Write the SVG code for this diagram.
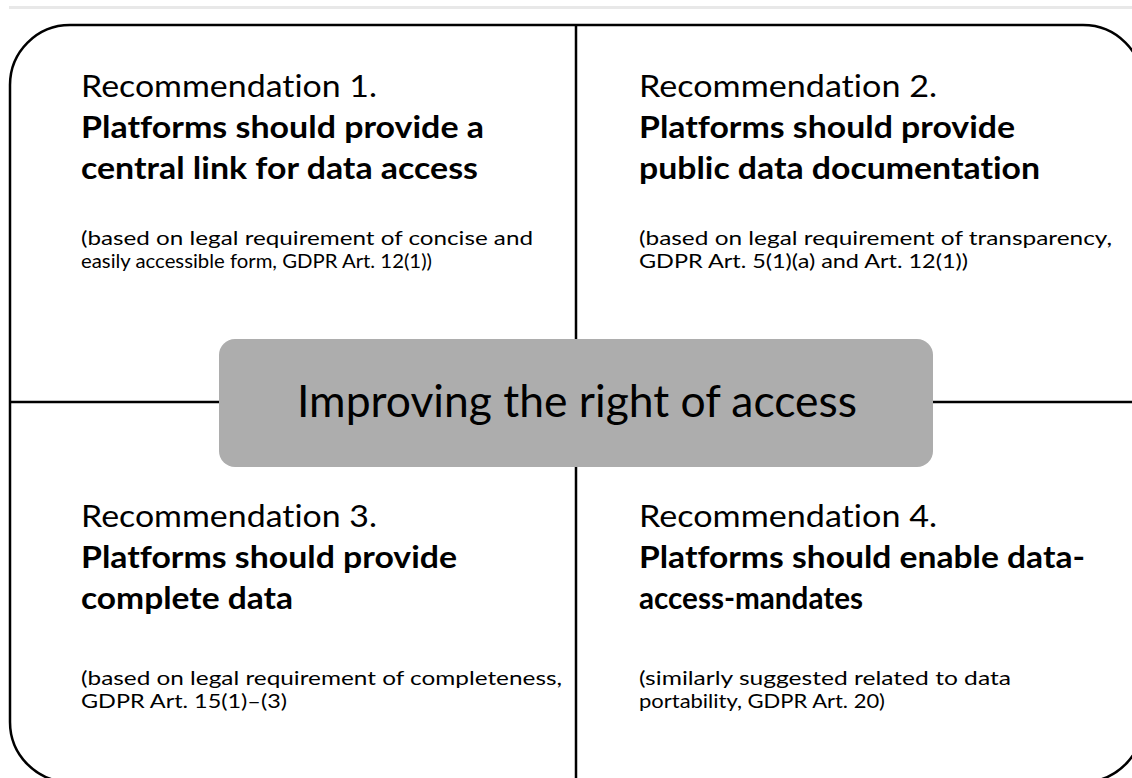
<svg xmlns="http://www.w3.org/2000/svg" width="1132" height="778" viewBox="0 0 1132 778">
<style>
text{font-family:Lato,"Open Sans","Liberation Sans",sans-serif;fill:#000;font-variant-ligatures:none}
.h{font-size:31px}
.b{font-size:31px;font-weight:700}
.s{font-size:20px}
.c{font-size:44px}
.ln{stroke:#000;stroke-width:2.5;fill:none}
</style>
<rect x="0" y="0" width="1132" height="778" fill="#fff"/>
<line x1="9" y1="7.5" x2="1132" y2="7.5" stroke="#e8e8e8" stroke-width="3"/>
<g id="frame">
<rect class="ln" x="10" y="25" width="1133" height="757" rx="60" ry="60"/>
</g>
<g id="connectors">
<line class="ln" x1="576" y1="25" x2="576" y2="339"/>
<line class="ln" x1="576" y1="467" x2="576" y2="782"/>
<line class="ln" x1="10" y1="402" x2="219" y2="402"/>
<line class="ln" x1="933" y1="402" x2="1143" y2="402"/>
</g>
<g id="center">
<rect x="219" y="339" width="714" height="128" rx="16" ry="16" fill="#adadad"/>
<text class="c" x="577" y="417" text-anchor="middle" textLength="560" lengthAdjust="spacingAndGlyphs">Improving the right of access</text>
</g>
<g id="rec1">
<text class="h" x="81" y="97" textLength="296" lengthAdjust="spacingAndGlyphs">Recommendation 1.</text>
<text class="b" x="81" y="138" textLength="403" lengthAdjust="spacingAndGlyphs">Platforms should provide a</text>
<text class="b" x="81" y="179" textLength="397" lengthAdjust="spacingAndGlyphs">central link for data access</text>
<text class="s" x="81" y="245" textLength="452" lengthAdjust="spacingAndGlyphs">(based on legal requirement of concise and</text>
<text class="s" x="81" y="268" textLength="351" lengthAdjust="spacingAndGlyphs">easily accessible form, GDPR Art. 12(1))</text>
</g>
<g id="rec2">
<text class="h" x="639" y="97" textLength="298" lengthAdjust="spacingAndGlyphs">Recommendation 2.</text>
<text class="b" x="639" y="138" textLength="376" lengthAdjust="spacingAndGlyphs">Platforms should provide</text>
<text class="b" x="639" y="179" textLength="401" lengthAdjust="spacingAndGlyphs">public data documentation</text>
<text class="s" x="639" y="245" textLength="473" lengthAdjust="spacingAndGlyphs">(based on legal requirement of transparency,</text>
<text class="s" x="639" y="268" textLength="329" lengthAdjust="spacingAndGlyphs">GDPR Art. 5(1)(a) and Art. 12(1))</text>
</g>
<g id="rec3">
<text class="h" x="81" y="527" textLength="296" lengthAdjust="spacingAndGlyphs">Recommendation 3.</text>
<text class="b" x="81" y="568" textLength="376" lengthAdjust="spacingAndGlyphs">Platforms should provide</text>
<text class="b" x="81" y="609" textLength="212" lengthAdjust="spacingAndGlyphs">complete data</text>
<text class="s" x="81" y="685" textLength="481" lengthAdjust="spacingAndGlyphs">(based on legal requirement of completeness,</text>
<text class="s" x="81" y="708" textLength="206" lengthAdjust="spacingAndGlyphs">GDPR Art. 15(1)–(3)</text>
</g>
<g id="rec4">
<text class="h" x="639" y="527" textLength="298" lengthAdjust="spacingAndGlyphs">Recommendation 4.</text>
<text class="b" x="639" y="568" textLength="446" lengthAdjust="spacingAndGlyphs">Platforms should enable data-</text>
<text class="b" x="639" y="609" textLength="224" lengthAdjust="spacingAndGlyphs">access-mandates</text>
<text class="s" x="639" y="685" textLength="372" lengthAdjust="spacingAndGlyphs">(similarly suggested related to data</text>
<text class="s" x="639" y="708" textLength="246" lengthAdjust="spacingAndGlyphs">portability, GDPR Art. 20)</text>
</g>
</svg>
